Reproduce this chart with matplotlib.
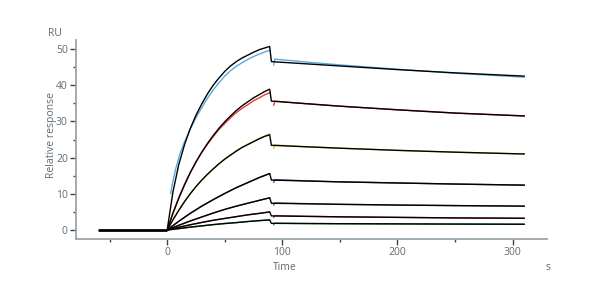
import matplotlib
matplotlib.use("Agg")
import matplotlib.pyplot as plt
from matplotlib.ticker import FixedLocator

plt.rcParams['font.family'] = ['Open Sans', 'DejaVu Sans']

# ---- data ----
t_base = [-60, 0]
base = [0, 0]

# fitted (black) curves, association phase
t_assoc_hi = [0, 5, 10, 15, 20, 25, 30, 35, 40, 45, 50, 55, 60, 65, 70, 75, 80, 85, 89]
fit_assoc_hi = [
    [0, 10.5, 18.0, 23.5, 28.0, 31.7, 34.8, 37.6, 40.0, 42.0, 43.8, 45.3, 46.5, 47.5, 48.3, 49.1, 49.8, 50.3, 50.7],
    [0, 4.6, 8.7, 12.4, 15.8, 18.8, 21.5, 23.9, 26.1, 28.1, 29.9, 31.5, 33.0, 34.3, 35.4, 36.5, 37.4, 38.3, 38.9],
    [0, 2.8, 5.4, 7.8, 10.0, 12.0, 13.8, 15.4, 16.9, 18.3, 19.6, 20.7, 21.8, 22.8, 23.6, 24.4, 25.2, 25.9, 26.3],
]
t_assoc_lo = [0, 10, 20, 30, 40, 50, 60, 70, 80, 89]
fit_assoc_lo = [
    [0, 2.4, 4.6, 6.6, 8.4, 10.1, 11.7, 13.1, 14.5, 15.6],
    [0, 1.3, 2.5, 3.6, 4.7, 5.7, 6.6, 7.4, 8.2, 8.9],
    [0, 0.75, 1.45, 2.1, 2.7, 3.2, 3.7, 4.2, 4.6, 5.0],
    [0, 0.4, 0.8, 1.15, 1.5, 1.8, 2.05, 2.35, 2.6, 2.8],
]

# fitted (black) curves, dissociation phase
t_diss = [90.5, 150, 200, 250, 310]
fit_diss = [
    [46.5, 45.3, 44.3, 43.4, 42.5],
    [35.6, 34.2, 33.2, 32.3, 31.5],
    [23.4, 22.6, 22.0, 21.5, 21.0],
    [13.8, 13.3, 13.0, 12.7, 12.4],
    [7.4, 7.1, 6.9, 6.75, 6.6],
    [3.9, 3.65, 3.5, 3.35, 3.25],
    [1.85, 1.75, 1.7, 1.65, 1.6],
]

# measured (coloured) curves, association phase
t_blue = [3, 5, 7.5, 11, 15, 20, 25, 30, 35, 40, 45, 50, 55, 60, 65, 70, 75, 80, 85, 89]
data_blue = [10.1, 13.5, 17.0, 21.0, 24.3, 27.8, 31.0, 33.8, 36.4, 38.7, 40.7, 42.5, 44.0, 45.2, 46.2, 47.1, 47.9, 48.6, 49.2, 49.6]
t_data_hi = [1, 5, 10, 15, 20, 25, 30, 35, 40, 45, 50, 55, 60, 65, 70, 75, 80, 85, 89]
data_red = [0.9, 4.7, 8.9, 12.6, 15.9, 18.8, 21.4, 23.7, 25.8, 27.8, 29.4, 31.0, 32.4, 33.6, 34.6, 35.7, 36.5, 37.4, 37.9]
data_yellow = [0.6, 2.9, 5.5, 7.9, 10.0, 12.0, 13.7, 15.4, 16.8, 18.3, 19.5, 20.7, 21.8, 22.8, 23.7, 24.5, 25.3, 26.0, 26.5]
t_data_lo = [1, 10, 20, 30, 40, 50, 60, 70, 80, 89]
data_purple = [0.3, 2.4, 4.6, 6.6, 8.4, 10.1, 11.7, 13.1, 14.5, 15.6]
data_brown = [0.2, 1.3, 2.5, 3.6, 4.7, 5.7, 6.6, 7.4, 8.2, 8.9]
data_magenta = [0.1, 0.75, 1.45, 2.1, 2.7, 3.2, 3.7, 4.2, 4.6, 5.0]
data_green = [0.05, 0.4, 0.8, 1.15, 1.5, 1.8, 2.05, 2.35, 2.6, 2.8]

# measured (coloured) curves, dissociation phase
t_data_diss = [92.5, 93.5, 120, 150, 200, 250, 310]
data_diss = [
    [45.6, 47.2, 46.4, 45.6, 44.4, 43.3, 42.2],
    [34.5, 35.6, 34.9, 34.2, 33.2, 32.3, 31.5],
    [22.6, 23.5, 23.0, 22.6, 22.0, 21.5, 21.0],
    [13.2, 13.9, 13.6, 13.3, 13.0, 12.7, 12.4],
    [6.9, 7.5, 7.3, 7.1, 6.9, 6.75, 6.6],
    [3.5, 4.0, 3.8, 3.65, 3.5, 3.35, 3.25],
    [1.5, 1.9, 1.8, 1.75, 1.7, 1.65, 1.6],
]
colors = ['#5aaae0', '#e53a3a', '#d6c23c', '#7d3f9a', '#8a6a42', '#c8407a', '#2a9a62']

x_major = [0, 100, 200, 300]
x_minor = [-50, 50, 150, 250]
y_major = [0, 10, 20, 30, 40, 50]
y_minor = [5, 15, 25, 35, 45]

# ---- figure ----
fig = plt.figure(figsize=(6, 3), dpi=100)
ax = fig.add_axes([0.127, 0.203, 0.785, 0.664])

gray = '#9ba5ad'
txt = '#5f6b75'

assoc_data = [
    (t_blue, data_blue),
    (t_data_hi, data_red),
    (t_data_hi, data_yellow),
    (t_data_lo, data_purple),
    (t_data_lo, data_brown),
    (t_data_lo, data_magenta),
    (t_data_lo, data_green),
]
for i, c in enumerate(colors):
    tx, vy = assoc_data[i]
    ax.plot(tx, vy, color=c, lw=1.0, zorder=2)
    ax.plot(t_data_diss, data_diss[i], color=c, lw=1.0, zorder=2)

fits = [(t_assoc_hi, f) for f in fit_assoc_hi] + [(t_assoc_lo, f) for f in fit_assoc_lo]
for i, (tx, f) in enumerate(fits):
    ax.plot(tx + t_diss, f + fit_diss[i], color='black', lw=1.0, zorder=3)

ax.plot(t_base, base, color='black', lw=2.0, zorder=3, solid_capstyle='butt')

ax.set_xlim(-79, 330)
ax.set_ylim(-2.5, 52.5)
ax.xaxis.set_major_locator(FixedLocator(x_major))
ax.xaxis.set_minor_locator(FixedLocator(x_minor))
ax.yaxis.set_major_locator(FixedLocator(y_major))
ax.yaxis.set_minor_locator(FixedLocator(y_minor))

for s in ['top', 'right']:
    ax.spines[s].set_visible(False)
for s in ['left', 'bottom']:
    ax.spines[s].set_color(gray)
    ax.spines[s].set_linewidth(1.3)

ax.tick_params(which='major', length=4, width=1.0, color='#444444', labelsize=7.5,
               labelcolor=txt, pad=2)
ax.tick_params(which='minor', length=2.5, width=1.0, color='#444444')

fig.text(0.08, 0.89, 'RU', fontsize=7.5, color=txt, ha='left', va='center')
fig.text(0.913, 0.11, 's', fontsize=7.5, color=txt, ha='center', va='center')
fig.text(0.475, 0.11, 'Time', fontsize=7.5, color=txt, ha='center', va='center')
fig.text(0.085, 0.55, 'Relative response', fontsize=7.5, color=txt, ha='center',
         va='center', rotation=90)

fig.savefig('out.png', dpi=100)
